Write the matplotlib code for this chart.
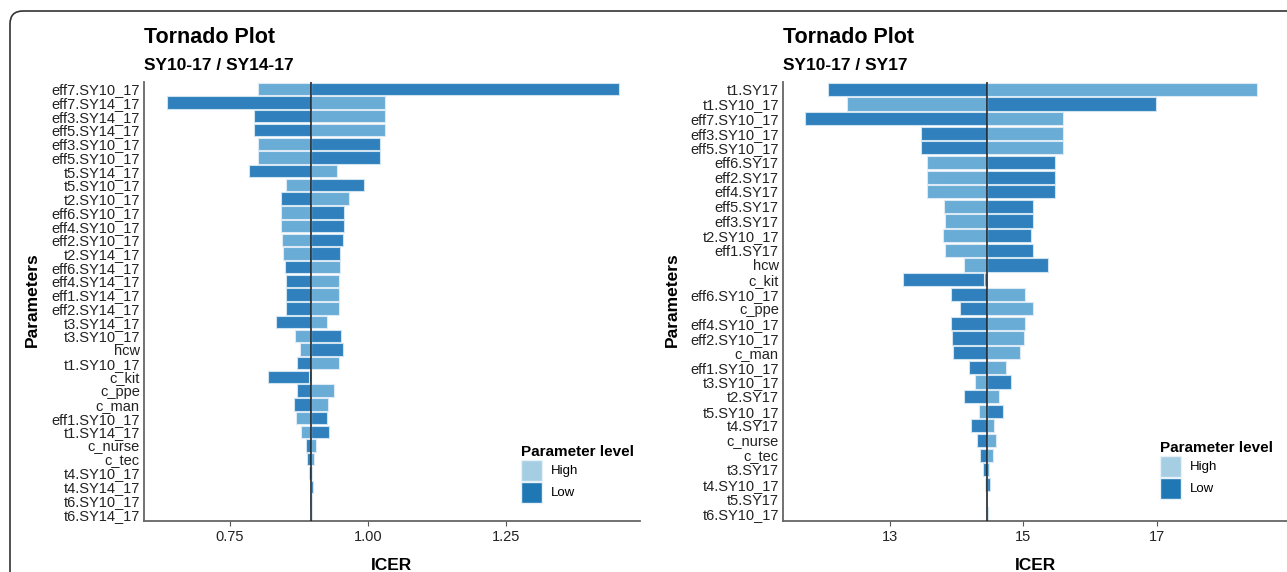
import matplotlib
matplotlib.use("Agg")
import matplotlib.pyplot as plt
from matplotlib.patches import Patch, FancyBboxPatch

plt.rcParams['font.family'] = ['Liberation Sans', 'DejaVu Sans']

# one-way sensitivity results: ICER at low / high parameter level
params_a = ['eff7.SY10_17', 'eff7.SY14_17', 'eff3.SY14_17', 'eff5.SY14_17',
            'eff3.SY10_17', 'eff5.SY10_17', 't5.SY14_17', 't5.SY10_17',
            't2.SY10_17', 'eff6.SY10_17', 'eff4.SY10_17', 'eff2.SY10_17',
            't2.SY14_17', 'eff6.SY14_17', 'eff4.SY14_17', 'eff1.SY14_17',
            'eff2.SY14_17', 't3.SY14_17', 't3.SY10_17', 'hcw', 't1.SY10_17',
            'c_kit', 'c_ppe', 'c_man', 'eff1.SY10_17', 't1.SY14_17',
            'c_nurse', 'c_tec', 't4.SY10_17', 't4.SY14_17', 't6.SY10_17',
            't6.SY14_17']
low_a = [1.455, 0.636, 0.794, 0.794, 1.021, 1.021, 0.784, 0.993,
         0.843, 0.957, 0.957, 0.955, 0.949, 0.849, 0.851, 0.851,
         0.851, 0.833, 0.951, 0.954, 0.872, 0.818, 0.872, 0.866,
         0.926, 0.930, 0.887, 0.890, 0.893, 0.900, 0.895, 0.896]
high_a = [0.800, 1.031, 1.031, 1.031, 0.800, 0.800, 0.943, 0.851,
          0.965, 0.843, 0.843, 0.844, 0.846, 0.949, 0.947, 0.947,
          0.947, 0.926, 0.867, 0.876, 0.947, 0.894, 0.939, 0.928,
          0.869, 0.879, 0.905, 0.902, 0.899, 0.895, 0.898, 0.898]
base_a = 0.897

params_b = ['t1.SY17', 't1.SY10_17', 'eff7.SY10_17', 'eff3.SY10_17',
            'eff5.SY10_17', 'eff6.SY17', 'eff2.SY17', 'eff4.SY17',
            'eff5.SY17', 'eff3.SY17', 't2.SY10_17', 'eff1.SY17', 'hcw',
            'c_kit', 'eff6.SY10_17', 'c_ppe', 'eff4.SY10_17',
            'eff2.SY10_17', 'c_man', 'eff1.SY10_17', 't3.SY10_17',
            't2.SY17', 't5.SY10_17', 't4.SY17', 'c_nurse', 'c_tec',
            't3.SY17', 't4.SY10_17', 't5.SY17', 't6.SY10_17']
low_b = [12.07, 16.99, 11.73, 13.46, 13.46, 15.47, 15.47, 15.47,
         15.14, 15.14, 15.11, 15.14, 15.36, 13.19, 13.92, 14.05,
         13.92, 13.93, 13.94, 14.18, 14.82, 14.11, 14.70, 14.22,
         14.30, 14.35, 14.39, 14.50, 14.44, 14.47]
high_b = [18.50, 12.36, 15.59, 15.59, 15.59, 13.55, 13.55, 13.55,
          13.81, 13.83, 13.80, 13.83, 14.11, 14.41, 15.02, 15.14,
          15.02, 15.01, 14.95, 14.74, 14.27, 14.63, 14.34, 14.56,
          14.59, 14.55, 14.48, 14.42, 14.46, 14.44]
base_b = 14.45

DARK = '#2f80bd'
LIGHT = '#69acd6'
LEG_HIGH = '#a6cee3'
LEG_LOW = '#1f78b4'

W, H = 1287, 572
fig = plt.figure(figsize=(W / 100, H / 100), dpi=100)

# rounded panel border, only the top-left corner falls inside the canvas
frame = FancyBboxPatch((0.10, -0.6), 13.5, 5.61 + 0.6,
                       boxstyle='round,pad=0,rounding_size=0.13',
                       transform=fig.dpi_scale_trans, facecolor='none',
                       edgecolor='#333333', linewidth=1.2, zorder=0)
fig.patches.append(frame)


def tornado(rect, params, low, high, base, xlim, ticks, ticklabels,
            subtitle, leg_xy, ylab_x):
    x0, x1, ytop, ybot = rect
    ax = fig.add_axes([x0 / W, 1 - ybot / H, (x1 - x0) / W, (ybot - ytop) / H])
    n = len(params)
    ys = list(range(n))
    ax.barh(ys, [v - base for v in low], left=base, height=0.9,
            color=DARK, edgecolor='#cfe3f1', linewidth=0.8, zorder=2)
    ax.barh(ys, [v - base for v in high], left=base, height=0.9,
            color=LIGHT, edgecolor='#dbeaf5', linewidth=0.8, zorder=2)
    ax.axvline(base, color='#1a1a1a', linewidth=1.1, zorder=3)
    ax.set_ylim(n - 0.5, -0.5)
    ax.set_xlim(*xlim)
    ax.set_yticks(ys)
    ax.set_yticklabels(params, fontsize=10.5, color='#222222')
    ax.tick_params(axis='y', length=0, pad=3)
    ax.set_xticks(ticks)
    ax.set_xticklabels(ticklabels, fontsize=10.5, color='#222222')
    ax.tick_params(axis='x', length=3.5, width=0.8, color='#555555', pad=3)
    for side in ('top', 'right'):
        ax.spines[side].set_visible(False)
    for side in ('left', 'bottom'):
        ax.spines[side].set_color('#666666')
        ax.spines[side].set_linewidth(1.3)
    ax.set_xlabel('ICER', fontsize=12.5, fontweight='bold', labelpad=10)
    fig.text(x0 / W, 1 - 43 / H, 'Tornado Plot', fontsize=15.5,
             fontweight='bold', ha='left', va='baseline')
    fig.text(x0 / W, 1 - 70 / H, subtitle, fontsize=12.5,
             fontweight='bold', ha='left', va='baseline')
    fig.text(ylab_x / W, 1 - 300 / H, 'Parameters', fontsize=12.5,
             fontweight='bold', rotation=90, ha='center', va='center')
    handles = [Patch(facecolor=LEG_HIGH, edgecolor='#e8f1f8', label='High'),
               Patch(facecolor=LEG_LOW, edgecolor='#e8f1f8', label='Low')]
    leg = fig.legend(handles=handles, title='Parameter level',
                     loc='upper left',
                     bbox_to_anchor=(leg_xy[0] / W, 1 - leg_xy[1] / H),
                     frameon=False, fontsize=9.5, handlelength=1.6,
                     handleheight=2.1, labelspacing=0.05, handletextpad=0.7,
                     borderaxespad=0, borderpad=0,
                     title_fontproperties={'weight': 'bold', 'size': 11})
    leg._legend_box.align = 'left'
    return ax


tornado((144, 640, 82, 521), params_a, low_a, high_a, base_a,
        (0.5942, 1.4928), [0.75, 1.00, 1.25], ['0.75', '1.00', '1.25'],
        'SY10-17 / SY14-17', (521, 445), 32)
tornado((783, 1287, 82, 521), params_b, low_b, high_b, base_b,
        (11.397, 18.948), [13, 15, 17], ['13', '15', '17'],
        'SY10-17 / SY17', (1160, 441), 672)

fig.savefig('out.png', dpi=100, facecolor='white')
